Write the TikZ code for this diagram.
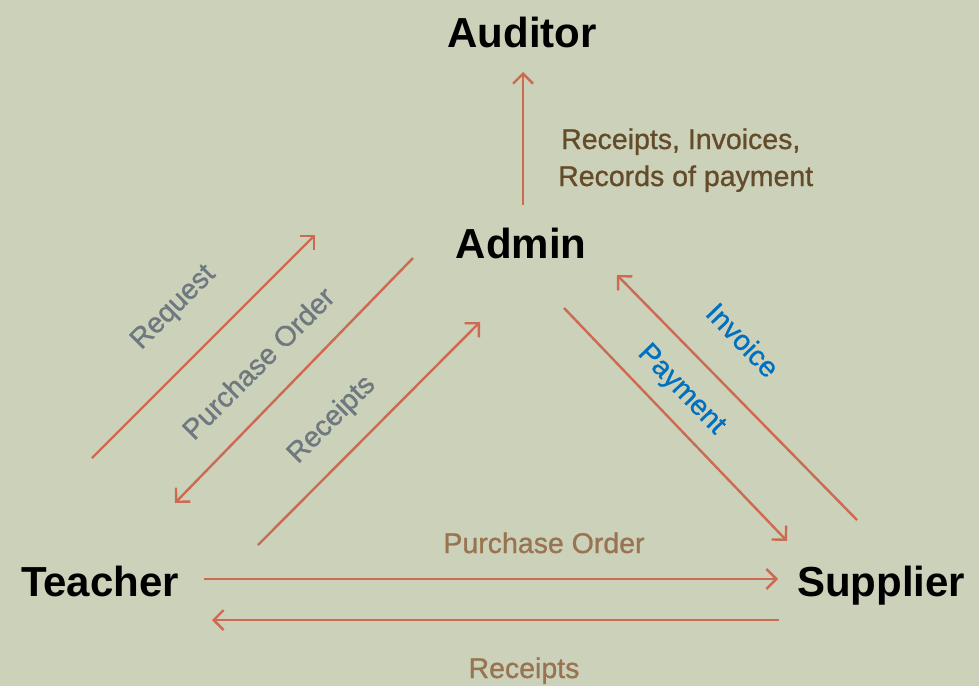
\documentclass[tikz,border=0pt]{standalone}
\usepackage{fontspec}
\setmainfont{Liberation Sans}
\newfontfamily\mediumfont[FakeBold=0.9]{Liberation Sans}
\usetikzlibrary{arrows.meta}
\definecolor{bgreen}{RGB}{204,209,185}
\definecolor{lred}{RGB}{205,106,82}
\definecolor{dbrown}{RGB}{100,75,42}
\definecolor{lgray}{RGB}{110,120,128}
\definecolor{lblue}{RGB}{0,112,192}
\definecolor{ltan}{RGB}{152,116,82}
\begin{document}
\begin{tikzpicture}[x=1pt,y=-1pt,
  party/.style={font=\fontsize{42}{46}\selectfont\bfseries, inner sep=0pt},
  flow/.style={font=\mediumfont\fontsize{28.5}{33}\selectfont, inner sep=0pt},
  link/.style={draw=lred, line width=2.4pt, -{Straight Barb[length=10pt,width=20pt,line width=2.4pt]}}
]

\fill[bgreen] (0,0) rectangle (979,686);
\useasboundingbox (0,0) rectangle (979,686);

%parties:
\node[party, anchor=base] (auditor) at (522,47) {Auditor};
\node[party, anchor=base] (admin) at (521,258) {Admin};
\node[party, anchor=base] (teacher) at (100,596) {Teacher};
\node[party, anchor=base] (supplier) at (881,596) {Supplier};

%ends of the arrows
\coordinate (au1) at (523,205);  \coordinate (au2) at (523,72);
\coordinate (rq1) at (92,458);   \coordinate (rq2) at (315,235);
\coordinate (po1) at (413,258);  \coordinate (po2) at (175,503);
\coordinate (rc1) at (258,545);  \coordinate (rc2) at (480,322);
\coordinate (pm1) at (564,308);  \coordinate (pm2) at (787,541);
\coordinate (iv1) at (857,520);  \coordinate (iv2) at (617,275);
\coordinate (ts1) at (204,579);  \coordinate (ts2) at (778,579);
\coordinate (st1) at (779,620);  \coordinate (st2) at (212,620);

\draw[link] (au1) -- (au2);
\draw[link] (rq1) -- (rq2);
\draw[link] (po1) -- (po2);
\draw[link] (rc1) -- (rc2);
\draw[link] (pm1) -- (pm2);
\draw[link] (iv1) -- (iv2);
\draw[link] (ts1) -- (ts2);
\draw[link] (st1) -- (st2);

%labels
\node[flow, text=dbrown, anchor=base west] (aud1) at (561,149) {Receipts, Invoices,};
\node[flow, text=dbrown, anchor=base west] (aud2) at (558,186) {Records of payment};
\node[flow, text=lgray, rotate=45] (request) at (174,308) {Request};
\node[flow, text=lgray, rotate=45] (porder) at (258,363) {Purchase Order};
\node[flow, text=lgray, rotate=45] (receipts) at (332,420) {Receipts};
\node[flow, text=lblue, rotate=-46] (invoice) at (743,340) {Invoice};
\node[flow, text=lblue, rotate=-46] (payment) at (681,390) {Payment};
\node[flow, text=ltan, anchor=base] (porder2) at (544,553) {Purchase Order};
\node[flow, text=ltan, anchor=base] (receipts2) at (524,678) {Receipts};

\end{tikzpicture}
\end{document}
